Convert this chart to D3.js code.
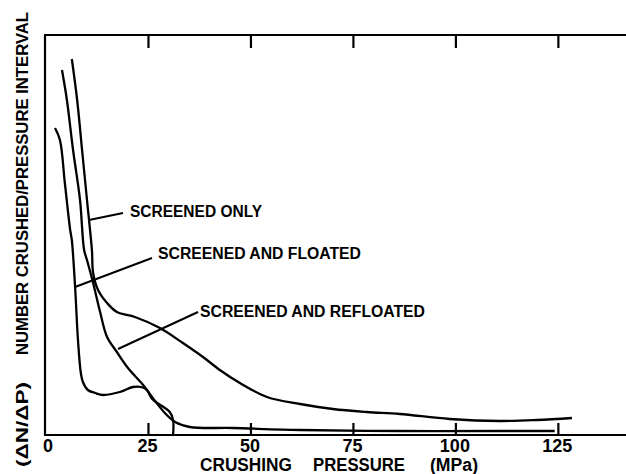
<!DOCTYPE html>
<html><head><meta charset="utf-8">
<script src="https://cdn.jsdelivr.net/npm/d3@7"></script>
<style>body{margin:0;background:#fff}svg{display:block}</style>
</head><body>
<svg id="c" width="626" height="474"></svg>
<script>
// Pressure (MPa) and relative number crushed per pressure interval (arbitrary units 0-100)
const screenedOnlyP = [6.3,7.6,8.8,10.0,11.2,11.5,12.7,14.9,17.3,21.7,27.8,33.4,38.3,42.4,47.3,53.9,62,70,78.3,86.3,98.5,110.7,119.8,128.3];
const screenedOnlyN = [94,83.75,71.25,58.75,46.25,40.5,36.25,33,30.75,29.5,26.75,23,19.5,16.25,13,9.5,7.75,6.5,5.75,5.25,4,3.5,3.75,4.25];

const refloatedP = [3.9,5.1,6.6,8.3,9.3,10.0,11.5,13.2,14.9,17.3,20.0,23.7,26.6,29.0,31.5,35.1,45.6,62,86.3,110.7,124.1];
const refloatedN = [91.25,83.75,71.25,58.75,46.25,43.75,38,30.75,24.5,20.75,16.75,12.5,8.5,5.5,3.25,2,1.75,1.25,1,1,1];

const floatedP = [2.2,3.4,4.6,5.9,6.3,7.1,7.8,8.5,9.0,10.2,12.0,13.9,18.0,21.2,23.2,24.6,25.9,28.3,30.2,31,31];
const floatedN = [76.75,73.75,63,51.25,48.75,37,23.75,15.5,13.25,11.25,10.5,10,10.75,12,12,11.25,9,7.25,5.75,3.75,0];

const xTicks = [0,25,50,75,100,125];
const seriesNames = ["SCREENED ONLY","SCREENED AND FLOATED","SCREENED AND REFLOATED"];

const svg = d3.select("#c");
const x = d3.scaleLinear().domain([0,141.5]).range([46,626]);
const y = d3.scaleLinear().domain([0,100]).range([435,35]);
const font = "'Liberation Sans', Arial, sans-serif";

// frame
const g = svg.append("g").attr("stroke","#000").attr("stroke-width",2.2).attr("fill","none");
g.append("line").attr("x1",x(0)-1).attr("x2",x(0)-1).attr("y1",y(100)).attr("y2",y(0)+1);
g.append("line").attr("x1",x(0)-2).attr("x2",626).attr("y1",y(100)).attr("y2",y(100));
g.append("line").attr("x1",x(0)-2).attr("x2",626).attr("y1",y(0)).attr("y2",y(0));

// ticks
xTicks.filter(d=>d>0).forEach(d=>{
  g.append("line").attr("x1",x(d)).attr("x2",x(d)).attr("y1",y(100)).attr("y2",y(100)+13);
  g.append("line").attr("x1",x(d)).attr("x2",x(d)).attr("y1",y(0)).attr("y2",y(0)-12);
});
svg.append("g").selectAll("text").data(xTicks).join("text")
  .attr("x",d=>x(d)+(d===0?2:-1)).attr("y",452).attr("text-anchor","middle")
  .attr("font-family",font).attr("font-size",18).attr("font-weight","bold")
  .text(d=>d);

// curves
const line = d3.line().curve(d3.curveCatmullRom.alpha(0.5));
const mk = (P,N)=>P.map((p,i)=>[x(p),y(N[i])]);
[[screenedOnlyP,screenedOnlyN],[floatedP,floatedN],[refloatedP,refloatedN]].forEach(([P,N])=>{
  svg.append("path").attr("d",line(mk(P,N))).attr("fill","none").attr("stroke","#000").attr("stroke-width",2.3);
});

// labels with leaders
const labels = [
  {name:seriesNames[0], p0:[89,220], p1:[123,213], tx:130, ty:217, w:132},
  {name:seriesNames[1], p0:[75,287], p1:[152,258], tx:158, ty:259, w:203},
  {name:seriesNames[2], p0:[118,349], p1:[198,312], tx:200, ty:317, w:225}
];
labels.forEach(l=>{
  svg.append("line").attr("x1",l.p0[0]).attr("y1",l.p0[1]).attr("x2",l.p1[0]).attr("y2",l.p1[1])
    .attr("stroke","#000").attr("stroke-width",2);
  svg.append("text").attr("x",l.tx).attr("y",l.ty).attr("font-family",font).attr("font-size",16)
    .attr("font-weight","bold")
    .attr("textLength",l.w).attr("lengthAdjust","spacingAndGlyphs").text(l.name);
});

// axis titles
const xt = [["CRUSHING",200,92],["PRESSURE",313,92],["(MPa)",430,48]];
xt.forEach(([t,px,w])=>{
  svg.append("text").attr("x",px).attr("y",471).attr("font-family",font).attr("font-size",18)
    .attr("font-weight","bold")
    .attr("textLength",w).attr("lengthAdjust","spacingAndGlyphs").text(t);
});
svg.append("text").attr("transform","translate(28,467) rotate(-90)")
  .attr("font-family",font).attr("font-size",17).attr("font-weight","bold")
  .attr("textLength",85).attr("lengthAdjust","spacingAndGlyphs").text("(ΔN/ΔP)");
svg.append("text").attr("transform","translate(28,355) rotate(-90)")
  .attr("font-family",font).attr("font-size",16).attr("font-weight","bold")
  .attr("textLength",343).attr("lengthAdjust","spacingAndGlyphs").text("NUMBER CRUSHED/PRESSURE INTERVAL");
</script>
</body></html>
